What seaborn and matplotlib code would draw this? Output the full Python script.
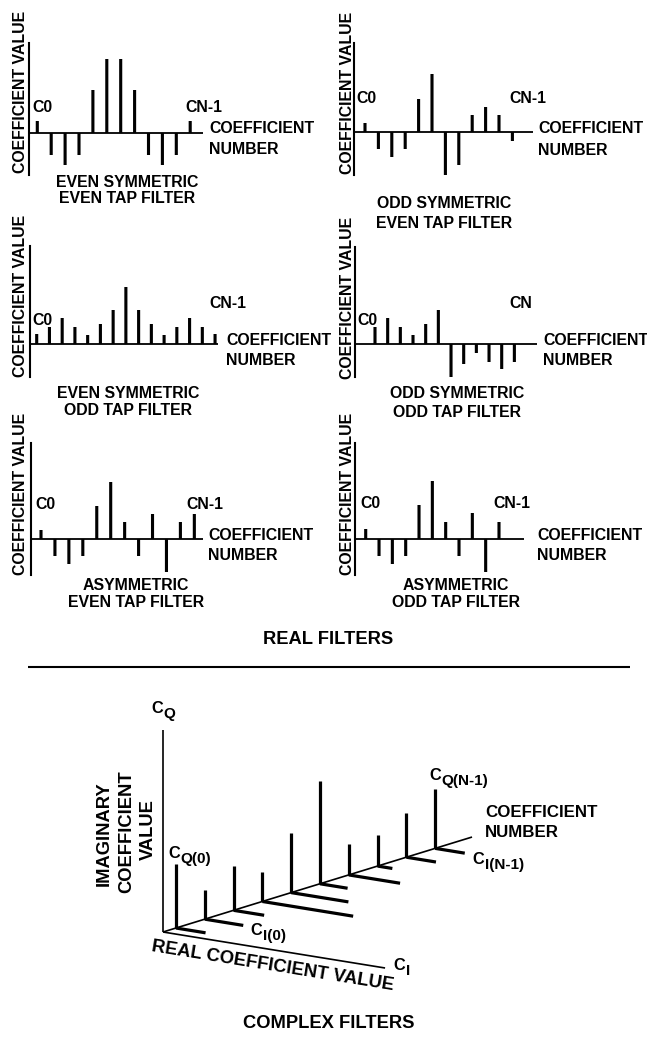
import matplotlib
matplotlib.use("Agg")
import matplotlib.pyplot as plt
import seaborn as sns
import numpy as np

# ---------------- data ----------------
even_sym_even = [12, -22, -32, -22, 43, 74, 74, 43, -22, -32, -22, 12]
odd_sym_even = [9, -17, -25, -17, 33, 58, -57, -33, 17, 25, 17, -9]
even_sym_odd = [10, 17, 26, 17, 9, 20, 34, 57, 34, 20, 9, 17, 26, 17, 10]
odd_sym_odd = [17, 26, 17, 9, 20, 34, -33, -20, -9, -18, -25, -18]
asym_even = [9, -17, -25, -17, 33, 57, 17, -17, 25, -33, 17, 25]
asym_odd = [10, -17, -25, -17, 34, 58, 17, -17, 26, -33, 17]

captions = [("EVEN SYMMETRIC", "EVEN TAP FILTER"),
            ("ODD SYMMETRIC", "EVEN TAP FILTER"),
            ("EVEN SYMMETRIC", "ODD TAP FILTER"),
            ("ODD SYMMETRIC", "ODD TAP FILTER"),
            ("ASYMMETRIC", "EVEN TAP FILTER"),
            ("ASYMMETRIC", "ODD TAP FILTER")]
first_labels = ["C0", "C0", "C0", "C0", "C0", "C0"]
last_labels = ["CN-1", "CN-1", "CN-1", "CN", "CN-1", "CN-1"]

complex_q = [64, 29, 44, 29, 60, 103, 31, 31, 44, 59]   # imaginary parts
complex_i = [30, 39, 31, 92, 58, 28, 52, 15, 30, 30]    # real parts

# ---------------- style ----------------
sns.set_theme(style="white")
plt.rcParams["font.family"] = ["Liberation Sans", "DejaVu Sans"]
plt.rcParams["font.weight"] = "bold"

W, H = 647, 1041
fig = plt.figure(figsize=(W / 100, H / 100), dpi=100)
fig.patch.set_facecolor("white")


def fx(x):
    return x / W


def fy(y):
    return 1 - y / H


def T(x, y, s, size=11.4, ha="left", va="baseline", rot=0, mode="default"):
    fig.text(fx(x), fy(y), s, fontsize=size, fontweight="bold", ha=ha, va=va,
             rotation=rot, rotation_mode=mode, color="black")


def add_ax(x0, y0, x1, y1):
    return fig.add_axes([x0 / W, 1 - y1 / H, (x1 - x0) / W, (y1 - y0) / H])


# panel layout: axis x, axis top, axis bottom, baseline y, baseline end, first stem x, spacing
layout = [
    (29, 43, 175, 133, 203, 37.3, 13.9),
    (354, 43, 175, 132, 533, 365.0, 13.4),
    (30, 246, 377, 344, 218, 36.7, 12.74),
    (355, 247, 377, 344, 537, 375.0, 12.67),
    (31, 443, 575, 539, 203, 41.0, 13.94),
    (355, 443, 575, 539, 524, 365.7, 13.33),
]
# text layout per panel
ylab = [(25, 92), (351.7, 93.3), (25, 296), (351.7, 298.3), (25, 494), (351.7, 494)]
c0pos = [(32, 112), (356, 103.3), (32, 325), (357, 325), (35, 509.3), (360, 508.3)]
cnpos = [(185, 112), (509, 103.3), (209, 308.3), (509, 308.3), (186, 509.3), (493, 508.3)]
cnum = [(209, 133.3, 154), (538, 133.3, 155), (226, 345, 365), (543, 345, 365),
        (208, 540, 560), (537, 540, 560)]
cap = [(127, 186.7, 203.3), (444, 208.3, 228.3), (128, 398.3, 415), (457, 398.3, 416.7),
       (136, 590, 607), (456, 590, 607)]

series = [even_sym_even, odd_sym_even, even_sym_odd, odd_sym_odd, asym_even, asym_odd]

for p, vals in enumerate(series):
    axx, top, bot, base, right, s1, sp = layout[p]
    ax = add_ax(axx, top, right, bot)
    ax.set_facecolor("none")
    pos = np.arange(len(vals))
    sns.barplot(x=pos, y=vals, native_scale=True, width=3.1 / sp, color="black",
                saturation=1, linewidth=0, errorbar=None, ax=ax)
    for patch in ax.patches:
        patch.set_snap(False)
    left = -(s1 - axx) / sp
    ax.set_xlim(left, left + (right - axx) / sp)
    ax.set_ylim(-(bot - base), base - top)
    ax.axhline(0, color="black", lw=1.3, zorder=3)
    for side in ["top", "right", "bottom"]:
        ax.spines[side].set_visible(False)
    ax.spines["left"].set_color("black")
    ax.spines["left"].set_linewidth(1.5)
    ax.set_xticks([])
    ax.set_yticks([])
    ax.set_xlabel("")
    ax.set_ylabel("")

    T(ylab[p][0], ylab[p][1], "COEFFICIENT VALUE", ha="center", va="baseline",
      rot=90, mode="anchor")
    T(c0pos[p][0], c0pos[p][1], first_labels[p])
    T(cnpos[p][0], cnpos[p][1], last_labels[p])
    T(cnum[p][0], cnum[p][1], "COEFFICIENT")
    T(cnum[p][0], cnum[p][2], "NUMBER")
    T(cap[p][0], cap[p][1], captions[p][0], ha="center")
    T(cap[p][0], cap[p][2], captions[p][1], ha="center")

T(328, 644.5, "REAL FILTERS", size=13.2, ha="center")

# ---------------- complex filters ----------------
axc = add_ax(0, 655, W, H)
axc.set_xlim(0, W)
axc.set_ylim(H, 655)
axc.axis("off")
axc.set_facecolor("none")

axc.plot([28, 630], [667, 667], color="black", lw=1.5, solid_capstyle="butt")

O = np.array([163.0, 932.0])
vN = np.array([28.8, -8.85])
vI = np.array([0.987, 0.160])
n_pos = 0.45 + np.arange(len(complex_q))

# axes
axc.plot([O[0], O[0]], [O[1], O[1] - 202], color="black", lw=1.2, solid_capstyle="butt")
endI = O + 225 * vI
axc.plot([O[0], endI[0]], [O[1], endI[1]], color="black", lw=1.2, solid_capstyle="butt")
endN = O + 10.73 * vN
axc.plot([O[0], endN[0]], [O[1], endN[1]], color="black", lw=1.2, solid_capstyle="butt")

bases = O[None, :] + n_pos[:, None] * vN[None, :]
axc.vlines(bases[:, 0], bases[:, 1], bases[:, 1] - np.array(complex_q),
           color="black", lw=2.3)
for b, iv in zip(bases, complex_i):
    e = b + iv * vI
    axc.plot([b[0], e[0]], [b[1], e[1]], color="black", lw=2.3, solid_capstyle="butt")


def CS(x, y, sub, size=11.8, subsize=11.0, dy=5, gap=12.6):
    T(x, y, "C", size=size)
    T(x + gap, y + dy, sub, size=subsize)


CS(151, 713, "Q")
CS(168, 858, "Q(0)")
CS(250, 935, "I(0)")
CS(429, 780, "Q(N-1)")
CS(472, 864, "I(N-1)")
CS(393, 970, "I")

T(485, 817, "COEFFICIENT", size=12.2)
T(485, 837, "NUMBER", size=12.2)

T(108.3, 834, "IMAGINARY", size=13.2, ha="center", rot=90, mode="anchor")
T(131.7, 831.5, "COEFFICIENT", size=13.2, ha="center", rot=90, mode="anchor")
T(152.7, 830, "VALUE", size=13.2, ha="center", rot=90, mode="anchor")

T(272, 970.5, "REAL COEFFICIENT VALUE", size=13.3, ha="center", rot=-9.2, mode="anchor")

T(329, 1027.5, "COMPLEX FILTERS", size=13.2, ha="center")

fig.savefig("out.png", dpi=100, facecolor="white")
